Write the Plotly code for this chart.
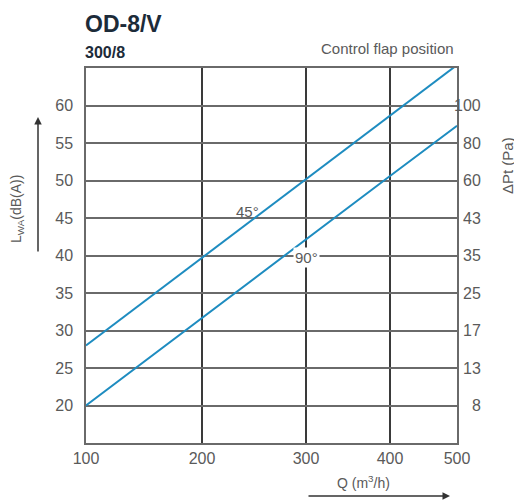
import numpy as np
import plotly.graph_objects as go

# ---- data ----
Q_TICKS = [100, 200, 300, 400, 500]
LWA_TICKS = [20, 25, 30, 35, 40, 45, 50, 55, 60]
DPT_LABELS = ["8", "13", "17", "25", "35", "43", "60", "80", "100"]
Q_VALUES = [100, 200, 300, 400, 500]
LWA_45 = [28.0, 39.7, 50.2, 58.7, 65.4]
LWA_90 = [20.0, 31.7, 42.2, 50.6, 57.3]

# non-uniform Q scale of the original diagram (relative position of each Q tick)
Q_SCALE_POS = [0.0, 0.3127, 0.593, 0.8194, 1.0]


def qpos(q):
    return np.interp(q, Q_TICKS, Q_SCALE_POS)


FONT = "Liberation Sans, Arial, sans-serif"
GREY = "#5a5a5a"
BLUE = "#1e8cc0"

fig = go.Figure()
fig.add_trace(go.Scatter(x=qpos(Q_VALUES), y=LWA_45, mode="lines",
                         line=dict(color=BLUE, width=2), showlegend=False,
                         hoverinfo="skip"))
fig.add_trace(go.Scatter(x=qpos(Q_VALUES), y=LWA_90, mode="lines",
                         line=dict(color=BLUE, width=2), showlegend=False,
                         hoverinfo="skip"))

# page offset (browser body margin)
OFF = 8
# plot area in page pixels
PL, PR, PT, PB = 86, 457, 68, 443
W, H = 522 - OFF, 501 - OFF
L, T = PL - OFF, PT - OFF
R, B = W - (PR - OFF), H - (PB - OFF)
pw, ph = PR - PL, PB - PT


def px(x):
    return (x - PL) / pw


def py(y):
    return (PB - y) / ph


fig.update_layout(
    width=W, height=H,
    margin=dict(l=L, r=R, t=T, b=B, autoexpand=False),
    paper_bgcolor="white", plot_bgcolor="white",
    font=dict(family=FONT, color=GREY, size=16),
    xaxis=dict(range=[0, 1], tickvals=list(qpos(Q_TICKS)),
               ticktext=[str(q) for q in Q_TICKS],
               showgrid=True, gridcolor="#3a3a3a", gridwidth=2,
               showline=True, linecolor="#6a6a6a", linewidth=1.5, mirror=True,
               zeroline=False, ticks="", ticklabelstandoff=0,
               tickfont=dict(family=FONT, size=16, color=GREY)),
    yaxis=dict(range=[15, 65], tickvals=LWA_TICKS,
               showgrid=True, gridcolor="#6a6a6a", gridwidth=1.5,
               showline=True, linecolor="#6a6a6a", linewidth=1.5, mirror=True,
               zeroline=False, ticks="", ticklabelstandoff=8,
               tickfont=dict(family=FONT, size=16, color=GREY)),
)

ann = []
# right-hand ΔPt scale (right-aligned labels)
for v, lab in zip(LWA_TICKS, DPT_LABELS):
    ann.append(dict(text=lab, x=px(483), y=v, xref="paper", yref="y",
                    xanchor="right", yanchor="middle", showarrow=False,
                    font=dict(family=FONT, size=16, color=GREY)))
# titles
ann.append(dict(text="<b>OD-8/V</b>", x=px(83), y=py(24), xref="paper", yref="paper",
                xanchor="left", yanchor="middle", showarrow=False,
                font=dict(family=FONT, size=23, color="#1c2b39")))
ann.append(dict(text="<b>300/8</b>", x=px(83), y=py(53), xref="paper", yref="paper",
                xanchor="left", yanchor="middle", showarrow=False,
                font=dict(family=FONT, size=16, color="#1c2b39")))
ann.append(dict(text="Control flap position", x=px(456), y=py(48), xref="paper", yref="paper",
                xanchor="right", yanchor="middle", showarrow=False,
                font=dict(family=FONT, size=15, color=GREY)))
# axis titles
ann.append(dict(text="L<sub>WA</sub>(dB(A))", x=px(17), y=py(209), xref="paper", yref="paper",
                textangle=-90, showarrow=False, xanchor="center", yanchor="middle",
                font=dict(family=FONT, size=14, color=GREY)))
ann.append(dict(text="ΔPt (Pa)", x=px(507), y=py(165), xref="paper", yref="paper",
                textangle=-90, showarrow=False, xanchor="center", yanchor="middle",
                font=dict(family=FONT, size=15, color=GREY)))
ann.append(dict(text="Q (m<sup>3</sup>/h)", x=px(363), y=py(482), xref="paper", yref="paper",
                showarrow=False, xanchor="center", yanchor="middle",
                font=dict(family=FONT, size=14, color=GREY)))
# arrows
ann.append(dict(text="", x=px(38), y=py(117), xref="paper", yref="paper",
                showarrow=True, ax=0, ay=136, arrowhead=2, arrowwidth=1.5,
                arrowsize=1, arrowcolor="#333"))
ann.append(dict(text="", x=px(519), y=py(120), xref="paper", yref="paper",
                showarrow=True, ax=0, ay=137, arrowhead=2, arrowwidth=1.5,
                arrowsize=1, arrowcolor="#333"))
ann.append(dict(text="", x=px(450), y=py(496), xref="paper", yref="paper",
                showarrow=True, ax=-143, ay=0, arrowhead=2, arrowwidth=1.5,
                arrowsize=1, arrowcolor="#333"))
# curve labels
ann.append(dict(text="45°", x=px(247), y=py(211), xref="paper", yref="paper",
                showarrow=False, xanchor="center", yanchor="middle",
                font=dict(family=FONT, size=15, color=GREY)))
ann.append(dict(text="90°", x=px(306), y=py(257), xref="paper", yref="paper",
                showarrow=False, xanchor="center", yanchor="middle", bgcolor="white",
                font=dict(family=FONT, size=15, color=GREY)))
fig.update_layout(annotations=ann)

fig.write_html("out.html")
